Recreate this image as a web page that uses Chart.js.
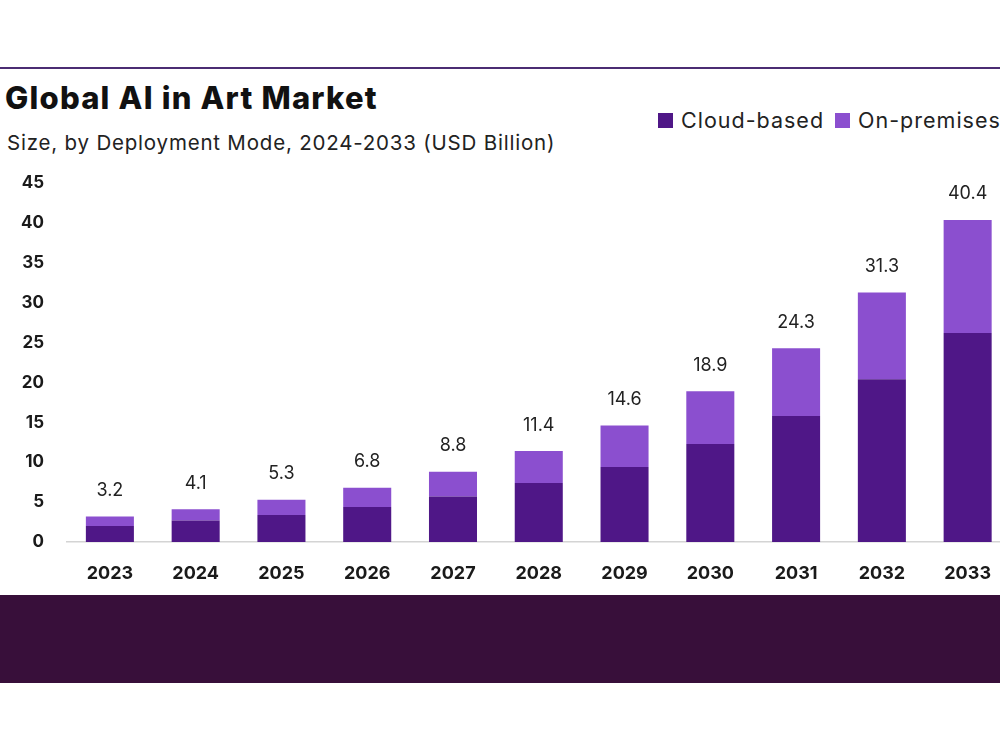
<!DOCTYPE html>
<html>
<head>
<meta charset="utf-8">
<script src="https://cdn.jsdelivr.net/npm/chart.js@4.4.1/dist/chart.umd.min.js"></script>
<style>
  html, body { margin: 0; padding: 0; width: 1000px; height: 750px; overflow: hidden; background: #ffffff; font-family: Inter, "Open Sans", sans-serif; }
  #topline { position: absolute; left: 0; top: 67px; width: 1000px; height: 2px; background: #4b2c73; }
  #title { position: absolute; left: 5px; top: 79px; font-size: 31px; font-weight: 800; color: #111; letter-spacing: 1.2px; white-space: nowrap; }
  #subtitle { position: absolute; left: 7px; top: 130px; font-size: 20.5px; font-weight: 400; color: #222; letter-spacing: 0.8px; white-space: nowrap; }
  #legend { position: absolute; left: 658px; top: 107px; font-size: 21.5px; color: #222; letter-spacing: 1.0px; white-space: nowrap; display: flex; align-items: center; }
  #legend .sw { display: inline-block; width: 15px; height: 15px; margin-right: 8px; }
  #legend .item { display: inline-flex; align-items: center; margin-right: 11px; }
  #chartbox { position: absolute; left: 0; top: 150px; width: 1012px; height: 450px; }
  #band { position: absolute; left: 0; top: 595px; width: 1000px; height: 88px; background: #380f3a; }
</style>
</head>
<body>
<div id="topline"></div>
<div id="title">Global AI in Art Market</div>
<div id="subtitle">Size, by Deployment Mode, 2024-2033 (USD Billion)</div>
<div id="legend"></div>
<div id="chartbox"><canvas id="c" width="1012" height="450"></canvas></div>
<div id="band"></div>
<script>
const categories = ["2023","2024","2025","2026","2027","2028","2029","2030","2031","2032","2033"];
const cloudBased = [2.0, 2.7, 3.4, 4.4, 5.7, 7.4, 9.4, 12.3, 15.8, 20.4, 26.2];
const onPremises = [1.2, 1.4, 1.9, 2.4, 3.1, 4.0, 5.2, 6.6, 8.5, 10.9, 14.2];
const totalLabels = ["3.2","4.1","5.3","6.8","8.8","11.4","14.6","18.9","24.3","31.3","40.4"];
const seriesNames = ["Cloud-based", "On-premises"];
const seriesColors = ["#4f1787", "#8b4fcf"];

// HTML legend
const lg = document.getElementById('legend');
seriesNames.forEach((n, i) => {
  const it = document.createElement('span'); it.className = 'item';
  const sw = document.createElement('span'); sw.className = 'sw'; sw.style.background = seriesColors[i];
  it.appendChild(sw); it.appendChild(document.createTextNode(n)); lg.appendChild(it);
});

const totalsPlugin = {
  id: 'totals',
  afterDatasetsDraw(chart) {
    const ctx = chart.ctx;
    const meta = chart.getDatasetMeta(1);
    ctx.save();
    ctx.font = '400 18px Inter, "Open Sans", sans-serif';
    ctx.fillStyle = '#222';
    ctx.textAlign = 'center';
    ctx.textBaseline = 'middle';
    meta.data.forEach((el, i) => {
      ctx.fillText(totalLabels[i], el.x, el.y - 26);
    });
    ctx.restore();
  }
};

new Chart(document.getElementById('c'), {
  type: 'bar',
  data: {
    labels: categories,
    datasets: [
      { label: seriesNames[0], data: cloudBased, backgroundColor: seriesColors[0], barPercentage: 0.56, categoryPercentage: 1.0 },
      { label: seriesNames[1], data: onPremises, backgroundColor: seriesColors[1], barPercentage: 0.56, categoryPercentage: 1.0 }
    ]
  },
  options: {
    responsive: false,
    animation: false,
    layout: { padding: { top: 32, right: 0, left: 0, bottom: 0 } },
    plugins: { legend: { display: false }, tooltip: { enabled: false } },
    scales: {
      x: {
        stacked: true,
        grid: { display: false, drawTicks: false },
        border: { display: true, color: '#d4d4d4', width: 1.5 },
        ticks: { color: '#1a1a1a', font: { family: 'Inter, "Open Sans", sans-serif', size: 18, weight: '700' }, padding: 21, maxRotation: 0 },
        afterFit(s) { s.height = 58; }
      },
      y: {
        stacked: true,
        min: 0, max: 45,
        grid: { display: false, drawTicks: false },
        border: { display: false },
        ticks: { stepSize: 5, color: '#1a1a1a', font: { family: 'Inter, "Open Sans", sans-serif', size: 17, weight: '700' }, padding: 23 },
        afterFit(s) { s.width = 67; }
      }
    }
  },
  plugins: [totalsPlugin]
});
</script>
</body>
</html>
